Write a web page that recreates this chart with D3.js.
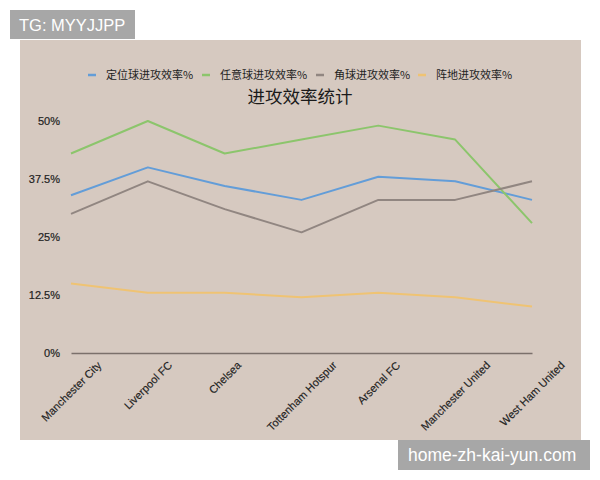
<!DOCTYPE html>
<html><head><meta charset="utf-8">
<script src="https://cdn.jsdelivr.net/npm/d3@7"></script>
<style>body{margin:0;background:#fff}svg{display:block}</style>
</head><body>
<svg id="c" width="600" height="480"></svg>
<script>
const teams = ["Manchester City","Liverpool FC","Chelsea","Tottenham Hotspur","Arsenal FC","Manchester United","West Ham United"];
const seriesNames = ["定位球进攻效率%","任意球进攻效率%","角球进攻效率%","阵地进攻效率%"];
const setPiece = [34,40,36,33,38,37,33];
const freeKick = [43,50,43,46,49,46,28];
const corner   = [30,37,31,26,33,33,37];
const openPlay = [15,13,13,12,13,12,10];
const yTicks = [0,12.5,25,37.5,50];
const yTickLabels = ["0%","12.5%","25%","37.5%","50%"];
const colors = ["#639dd8","#8cc56c","#918681","#efc373"];
const allSeries = [setPiece,freeKick,corner,openPlay];

const svg = d3.select("#c");
const F = "'Liberation Sans', Arial, 'Noto Sans CJK SC', sans-serif";
const FC = "'Noto Sans CJK SC', sans-serif";
// background
svg.append("rect").attr("x",20).attr("y",40).attr("width",561).attr("height",400).attr("fill","#d6c9c0");
// watermarks
svg.append("rect").attr("x",10).attr("y",10).attr("width",125).attr("height",29).attr("fill","#a7a7a7");
svg.append("text").attr("x",19).attr("y",31).attr("fill","#fff").attr("font-family",F).attr("font-size",16.5).text("TG: MYYJJPP");
svg.append("rect").attr("x",398).attr("y",440).attr("width",192).attr("height",30).attr("fill","#a7a7a7");
svg.append("text").attr("x",408).attr("y",461).attr("fill","#fff").attr("font-family",F).attr("font-size",17.5).text("home-zh-kai-yun.com");

const x = d3.scalePoint().domain(teams).range([71,532]);
const y = d3.scaleLinear().domain([0,50]).range([353,121]);

// y axis labels
const ya = svg.append("g").attr("transform","translate(60,0)")
  .call(d3.axisLeft(y).tickValues(yTicks).tickFormat((d,i)=>yTickLabels[i]).tickSize(0).tickPadding(0));
ya.select(".domain").remove();
ya.selectAll("text").attr("font-family",F).attr("font-size",11).attr("fill","#222")
  .attr("stroke","#222").attr("stroke-width",0.2);

// baseline axis
const xa = svg.append("g").attr("transform","translate(0,353)")
  .call(d3.axisBottom(x).tickSize(0).tickFormat(""));
xa.select(".domain").attr("stroke","#7b706b").attr("stroke-width",1.5);
// rotated labels
const lg = svg.append("g");
teams.forEach(t=>{
  const tx = lg.append("text").attr("font-family",F).attr("font-size",11).attr("fill","#222")
    .attr("stroke","#222").attr("stroke-width",0.15)
    .attr("text-anchor","end").text(t);
  const L = tx.node().getComputedTextLength();
  const ex = x(t) + L/2*Math.SQRT1_2 + 3, ey = 366;
  tx.attr("transform",`translate(${ex},${ey}) rotate(-45)`);
});

// lines
const line = d3.line().x((d,i)=>x(teams[i])).y(d=>y(d));
allSeries.forEach((s,k)=>{
  svg.append("path").datum(s).attr("d",line).attr("fill","none")
    .attr("stroke",colors[k]).attr("stroke-width",2).attr("stroke-linejoin","round");
});

// legend
const legX = [88,202,316,418];
seriesNames.forEach((n,k)=>{
  svg.append("line").attr("x1",legX[k]).attr("x2",legX[k]+8).attr("y1",75).attr("y2",75)
    .attr("stroke",colors[k]).attr("stroke-width",2.5);
  svg.append("text").attr("x",legX[k]+18).attr("y",79).attr("font-family",FC).attr("font-size",11)
    .attr("fill","#222").text(n);
});
// title
svg.append("text").attr("x",300).attr("y",103).attr("text-anchor","middle").attr("font-family",FC)
  .attr("font-size",17.5).attr("font-weight",400).attr("fill","#1a1a1a").text("进攻效率统计");
</script>
</body></html>
